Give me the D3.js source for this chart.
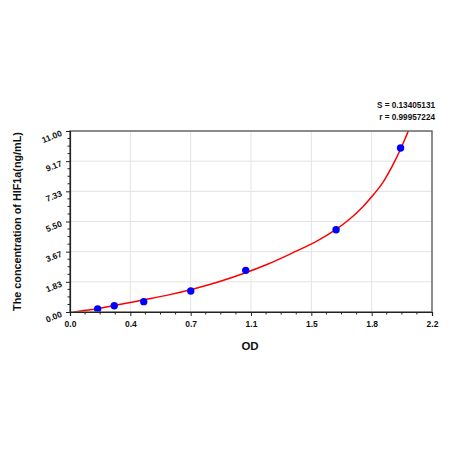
<!DOCTYPE html>
<html>
<head>
<meta charset="utf-8">
<script src="https://cdn.jsdelivr.net/npm/d3@7"></script>
<style>
  html, body { margin: 0; padding: 0; background: #fff; }
  svg { display: block; font-family: Arial, "Liberation Sans", sans-serif; }
</style>
</head>
<body>
<svg id="chart" width="450" height="450"></svg>
<script>
// ---- data ----
const odValues   = [0.168, 0.269, 0.448, 0.734, 1.068, 1.617, 2.009];
const concValues = [0.18, 0.38, 0.63, 1.28, 2.53, 5.00, 9.97];

// fitted curve
const curveOD   = [0.02, 0.10, 0.20, 0.30, 0.45, 0.60, 0.75, 0.90, 1.05, 1.20, 1.35, 1.50, 1.615, 1.70, 1.78, 1.85, 1.90, 1.96, 2.01, 2.06];
const curveConc = [0.00, 0.10, 0.26, 0.45, 0.74, 1.04, 1.40, 1.82, 2.32, 2.90, 3.58, 4.31, 5.00, 5.65, 6.40, 7.20, 7.85, 8.90, 9.92, 11.10];

const xTickLabels = ["0.0", "0.4", "0.7", "1.1", "1.5", "1.8", "2.2"];
const yTickLabels = ["0.00", "1.83", "3.67", "5.50", "7.33", "9.17", "11.00"];
const statLines   = ["S = 0.13405131", "r = 0.99957224"];
const xTitle = "OD";
const yTitle = "The concentration of HIF1a(ng/mL)";

// ---- layout ----
const pL = 70, pR = 432, pT = 131, pB = 312;
const xMax = 2.2, yMax = 11;

const svg = d3.select("#chart");
const x = d3.scaleLinear().domain([0, xMax]).range([pL, pR]);
const y = d3.scaleLinear().domain([0, yMax]).range([pB, pT]);

const xMajor = xTickLabels.map((_, i) => i * xMax / 6);
const yMajor = yTickLabels.map((_, i) => i * yMax / 6);
const xMinor = d3.range(0, 25).map(i => i * xMax / 24);
const yMinor = d3.range(0, 25).map(i => i * yMax / 24);

// grid
const grid = svg.append("g");
grid.selectAll("line.gx").data(xMajor.slice(1, -1)).join("line")
  .attr("x1", d => x(d)).attr("x2", d => x(d)).attr("y1", pT).attr("y2", pB)
  .attr("stroke", "#e3e3e3").attr("stroke-width", 1);
grid.selectAll("line.gy").data(yMajor.slice(1, -1)).join("line")
  .attr("x1", pL).attr("x2", pR).attr("y1", d => y(d)).attr("y2", d => y(d))
  .attr("stroke", "#e3e3e3").attr("stroke-width", 1);

// clip for curve
svg.append("clipPath").attr("id", "clip").append("rect")
  .attr("x", pL).attr("y", pT).attr("width", pR - pL).attr("height", pB - pT);

// curve
const curvePts = curveOD.map((d, i) => [d, curveConc[i]]);
svg.append("path")
  .datum(curvePts)
  .attr("clip-path", "url(#clip)")
  .attr("fill", "none").attr("stroke", "#ff0000").attr("stroke-width", 1.5)
  .attr("d", d3.line().x(d => x(d[0])).y(d => y(d[1])).curve(d3.curveCatmullRom.alpha(0.5)));

// points
svg.selectAll("circle.pt").data(odValues.map((d, i) => [d, concValues[i]])).join("circle")
  .attr("cx", d => x(d[0])).attr("cy", d => y(d[1])).attr("r", 3.7)
  .attr("fill", "#0000ff");

// frame
svg.append("rect").attr("x", pL).attr("y", pT).attr("width", pR - pL).attr("height", pB - pT)
  .attr("fill", "none").attr("stroke", "#666").attr("stroke-width", 1.5);

// x axis
const xAxis = d3.axisBottom(x).tickValues(xMajor).tickFormat((d, i) => xTickLabels[i]).tickSize(4).tickPadding(5);
const gx = svg.append("g").attr("transform", `translate(0,${pB})`).call(xAxis);
gx.select(".domain").attr("stroke", "#222").attr("stroke-width", 1.2);
gx.selectAll(".tick line").attr("stroke", "#222");
gx.selectAll("text").attr("font-size", 8.5).attr("font-weight", "bold").attr("fill", "#111")
  .attr("font-family", "Arial, 'Liberation Sans', sans-serif");
svg.append("g").selectAll("line").data(xMinor.filter((d, i) => i % 4 !== 0)).join("line")
  .attr("x1", d => x(d)).attr("x2", d => x(d)).attr("y1", pB).attr("y2", pB + 2.5)
  .attr("stroke", "#222");

// y axis
const yAxis = d3.axisLeft(y).tickValues(yMajor).tickFormat((d, i) => yTickLabels[i]).tickSize(4);
const gy = svg.append("g").attr("transform", `translate(${pL},0)`).call(yAxis);
gy.select(".domain").attr("stroke", "#222").attr("stroke-width", 1.2);
gy.selectAll(".tick line").attr("stroke", "#222");
gy.selectAll("text")
  .attr("font-size", 8.5).attr("font-weight", "bold").attr("fill", "#111")
  .attr("font-family", "Arial, 'Liberation Sans', sans-serif")
  .attr("x", -9).attr("dy", "0.5em")
  .attr("transform", "rotate(-22,-9,0)");
svg.append("g").selectAll("line").data(yMinor.filter((d, i) => i % 4 !== 0)).join("line")
  .attr("x1", pL - 2.5).attr("x2", pL).attr("y1", d => y(d)).attr("y2", d => y(d))
  .attr("stroke", "#222");

// titles
svg.append("text").attr("x", (pL + pR) / 2 - 1).attr("y", 350)
  .attr("text-anchor", "middle").attr("font-size", 11.5).attr("font-weight", "bold").attr("fill", "#111")
  .text(xTitle);
svg.append("text").attr("transform", `translate(21,${(pT + pB) / 2}) rotate(-90)`)
  .attr("text-anchor", "middle").attr("font-size", 10.8).attr("font-weight", "bold").attr("fill", "#111")
  .text(yTitle);

// stats
svg.selectAll("text.stat").data(statLines).join("text").attr("class", "stat")
  .attr("x", 435).attr("y", (d, i) => 107.5 + i * 12)
  .attr("text-anchor", "end").attr("font-size", 8.2).attr("font-weight", "bold").attr("fill", "#111")
  .text(d => d);
</script>
</body>
</html>
